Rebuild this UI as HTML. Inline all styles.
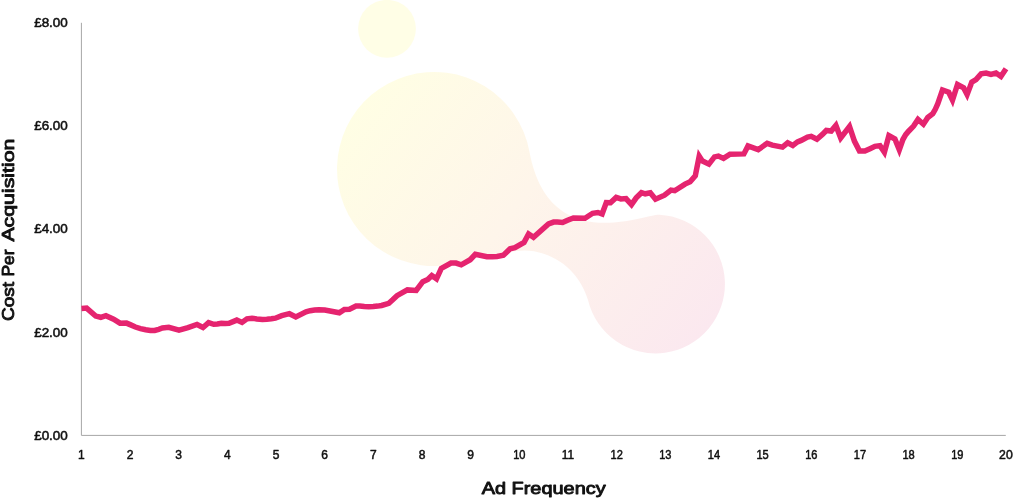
<!DOCTYPE html>
<html><head><meta charset="utf-8">
<style>
html,body{margin:0;padding:0;background:#fff;}
body{width:1013px;height:500px;overflow:hidden;font-family:"Liberation Sans",sans-serif;}
svg{display:block;will-change:transform;}
.tick text{font-family:"Liberation Sans",sans-serif;font-size:12px;fill:#111;stroke:#111;stroke-width:0.5px;stroke-linejoin:round;}
.title{font-family:"Liberation Sans",sans-serif;font-weight:normal;font-size:16.5px;fill:#111;stroke:#111;stroke-width:0.9px;stroke-linejoin:round;}
</style></head>
<body>
<svg width="1013" height="500" viewBox="0 0 1013 500">
<defs>
<linearGradient id="g" gradientUnits="userSpaceOnUse" x1="370" y1="90" x2="700" y2="340">
<stop offset="0" stop-color="#FFFEE4"/>
<stop offset="0.45" stop-color="#FEF5EA"/>
<stop offset="1" stop-color="#FBE8EF"/>
</linearGradient>
</defs>
<rect width="1013" height="500" fill="#fff"/>
<circle cx="387" cy="28.8" r="28.9" fill="#FFFEE6"/>
<path fill="url(#g)" d="M529.4,151.4 C548.9,257.1 644.5,213.9 659.4,214.7 A69.4,69.4 0 1 1 588,300 C581,277 563.5,257 534,251.3 C514.5,248 500,256.5 480,254.4 A97,97 0 1 1 529.4,151.4 Z"/>
<path d="M81.4,22.8 V435.4 H1005.8" fill="none" stroke="#A6A6A6" stroke-width="1"/>
<polyline fill="none" stroke="#E5246F" stroke-width="5.5" stroke-linejoin="miter" stroke-miterlimit="10" stroke-linecap="butt" points="81.5,308.5 86.6,308.1 95.7,316.1 100.8,317.3 105.9,315.7 113.6,319.2 120.0,323.2 126.5,323.1 130.7,324.9 135.4,327.0 140.5,328.6 145.7,329.8 150.4,330.5 154.7,330.5 158.7,329.3 162.4,328.0 168.8,327.3 179.0,330.2 188.0,327.7 197.0,324.5 203.0,327.5 208.6,322.7 213.7,324.3 217.4,324.0 221.4,323.3 225.2,323.4 229.0,323.3 236.8,320.1 242.0,322.4 247.0,318.8 252.0,318.2 256.8,318.9 262.5,319.5 266.8,319.3 271.4,318.8 275.3,318.2 281.7,315.6 289.4,313.7 295.8,316.9 306.0,311.8 310.2,310.7 314.7,310.0 319.0,309.7 324.7,310.1 330.0,311.0 339.3,312.8 344.4,309.4 349.5,309.2 356.0,306.1 359.8,306.0 364.3,306.5 368.8,306.8 373.3,306.6 377.7,306.1 381.6,305.5 388.8,303.3 392.7,299.8 397.0,295.7 407.4,289.9 416.2,290.5 422.8,281.7 427.8,279.4 431.8,275.5 436.5,278.8 441.3,268.4 451.0,263.0 456.0,263.1 461.2,264.8 470.2,259.7 475.3,254.3 486.9,256.7 492.3,256.8 497.0,256.4 503.4,255.3 510.1,248.8 514.9,247.7 524.0,242.5 528.6,233.9 533.5,237.2 548.5,224.0 553.6,222.1 557.4,222.0 562.6,222.5 567.6,220.2 573.4,217.9 585.0,218.2 592.6,213.3 597.9,212.5 602.1,214.0 606.3,202.6 610.5,202.8 616.2,197.4 620.9,198.9 626.0,198.6 631.5,204.6 636.2,197.9 641.5,192.7 645.2,193.8 650.3,192.8 655.5,199.2 664.5,195.2 671.0,190.1 674.7,190.7 685.0,184.1 690.1,181.8 695.3,175.8 699.2,156.2 702.1,160.8 708.9,164.1 714.5,156.9 718.4,156.1 723.5,158.4 730.0,154.2 743.9,153.9 748.0,146.0 758.2,149.7 767.2,143.3 772.3,145.1 782.5,147.1 787.7,142.8 792.8,145.4 797.5,141.9 801.2,140.4 807.5,137.0 811.2,136.3 816.9,139.2 822.4,134.4 826.3,130.5 831.2,131.1 835.9,125.4 840.7,138.0 849.5,126.5 854.4,141.1 859.5,151.0 864.9,151.1 870.0,148.7 874.9,146.3 880.0,145.6 884.4,152.2 888.9,135.7 894.9,139.0 899.3,149.7 902.9,139.5 905.7,134.7 908.6,131.2 913.6,126.1 918.0,119.4 923.4,124.2 927.8,117.5 932.8,113.7 935.3,109.3 937.8,103.7 942.5,90.0 948.7,92.2 952.5,100.1 957.5,84.5 963.6,87.8 967.1,94.6 971.8,82.1 976.0,79.5 981.1,73.8 986.1,73.1 991.0,74.4 996.0,73.1 1000.9,76.5 1006.0,68.7"/>
<g class="tick">
<text x="81.4" y="459" text-anchor="middle">1</text>
<text x="130.1" y="459" text-anchor="middle">2</text>
<text x="178.7" y="459" text-anchor="middle">3</text>
<text x="227.4" y="459" text-anchor="middle">4</text>
<text x="276.0" y="459" text-anchor="middle">5</text>
<text x="324.7" y="459" text-anchor="middle">6</text>
<text x="373.4" y="459" text-anchor="middle">7</text>
<text x="422.0" y="459" text-anchor="middle">8</text>
<text x="470.7" y="459" text-anchor="middle">9</text>
<text x="519.3" y="459" text-anchor="middle" textLength="12.3" lengthAdjust="spacingAndGlyphs">10</text>
<text x="568.0" y="459" text-anchor="middle" textLength="12.3" lengthAdjust="spacingAndGlyphs">11</text>
<text x="616.7" y="459" text-anchor="middle" textLength="12.3" lengthAdjust="spacingAndGlyphs">12</text>
<text x="665.3" y="459" text-anchor="middle" textLength="12.3" lengthAdjust="spacingAndGlyphs">13</text>
<text x="714.0" y="459" text-anchor="middle" textLength="12.3" lengthAdjust="spacingAndGlyphs">14</text>
<text x="762.6" y="459" text-anchor="middle" textLength="12.3" lengthAdjust="spacingAndGlyphs">15</text>
<text x="811.3" y="459" text-anchor="middle" textLength="12.3" lengthAdjust="spacingAndGlyphs">16</text>
<text x="860.0" y="459" text-anchor="middle" textLength="12.3" lengthAdjust="spacingAndGlyphs">17</text>
<text x="908.6" y="459" text-anchor="middle" textLength="12.3" lengthAdjust="spacingAndGlyphs">18</text>
<text x="957.3" y="459" text-anchor="middle" textLength="12.3" lengthAdjust="spacingAndGlyphs">19</text>
<text x="1005.9" y="459" text-anchor="middle" textLength="13.6" lengthAdjust="spacingAndGlyphs">20</text>
<text x="67.8" y="439.6" text-anchor="end" textLength="33.6" lengthAdjust="spacingAndGlyphs">£0.00</text>
<text x="67.8" y="336.5" text-anchor="end" textLength="33.6" lengthAdjust="spacingAndGlyphs">£2.00</text>
<text x="67.8" y="233.4" text-anchor="end" textLength="33.6" lengthAdjust="spacingAndGlyphs">£4.00</text>
<text x="67.8" y="130.3" text-anchor="end" textLength="33.6" lengthAdjust="spacingAndGlyphs">£6.00</text>
<text x="67.8" y="27.2" text-anchor="end" textLength="33.6" lengthAdjust="spacingAndGlyphs">£8.00</text>
</g>
<text class="title" x="543.7" y="494.4" text-anchor="middle" textLength="124" lengthAdjust="spacingAndGlyphs">Ad Frequency</text>
<g transform="translate(14.3,0) rotate(-90)">
<text class="title" x="-301.4" y="0" text-anchor="middle" textLength="39" lengthAdjust="spacingAndGlyphs">Cost</text>
<text class="title" x="-263" y="0" text-anchor="middle" textLength="27" lengthAdjust="spacingAndGlyphs">Per</text>
<text class="title" x="-190.1" y="0" text-anchor="middle" textLength="103" lengthAdjust="spacingAndGlyphs">Acquisition</text>
</g>
</svg>
</body></html>
